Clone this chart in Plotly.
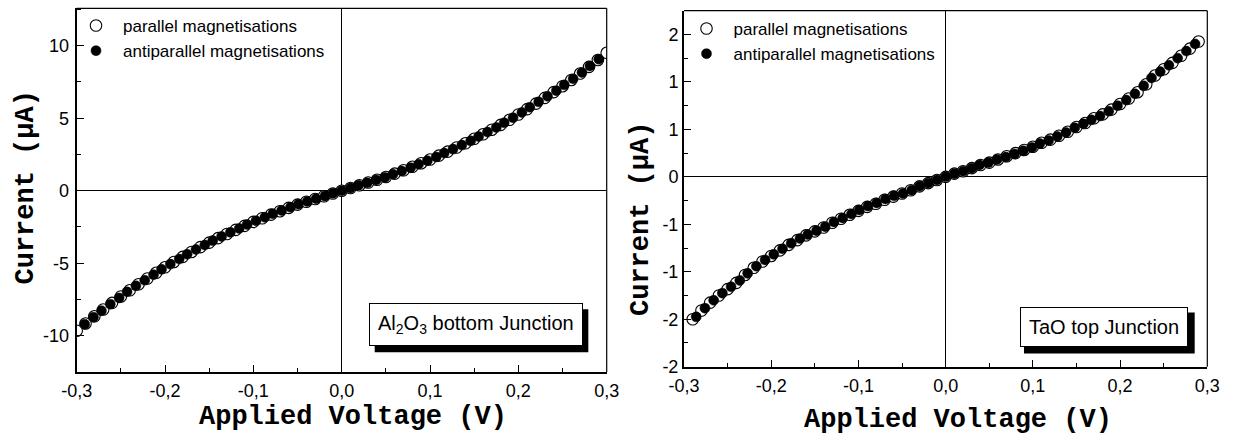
import plotly.graph_objects as go

# ---------------- Al2O3 bottom junction ----------------
al_v_par = [-0.30, -0.29, -0.28, -0.27, -0.26, -0.25, -0.24, -0.23, -0.22, -0.21,
            -0.20, -0.19, -0.18, -0.17, -0.16, -0.15, -0.14, -0.13, -0.12, -0.11,
            -0.10, -0.09, -0.08, -0.07, -0.06, -0.05, -0.04, -0.03, -0.02, -0.01,
            0.00, 0.01, 0.02, 0.03, 0.04, 0.05, 0.06, 0.07, 0.08, 0.09,
            0.10, 0.11, 0.12, 0.13, 0.14, 0.15, 0.16, 0.17, 0.18, 0.19,
            0.20, 0.21, 0.22, 0.23, 0.24, 0.25, 0.26, 0.27, 0.28, 0.29, 0.30]
al_i_par = [-9.65, -9.15, -8.66, -8.19, -7.73, -7.29, -6.86, -6.45, -6.05, -5.66,
            -5.28, -4.91, -4.56, -4.22, -3.89, -3.58, -3.27, -2.98, -2.70, -2.42,
            -2.15, -1.90, -1.65, -1.41, -1.18, -0.96, -0.76, -0.57, -0.38, -0.19,
            0.00, 0.19, 0.38, 0.57, 0.76, 0.95, 1.18, 1.41, 1.65, 1.90,
            2.15, 2.42, 2.70, 2.98, 3.27, 3.58, 3.89, 4.21, 4.54, 4.89,
            5.26, 5.63, 6.01, 6.40, 6.80, 7.21, 7.64, 8.08, 8.54, 9.02, 9.51]
al_v_anti = [-0.291, -0.281, -0.272, -0.262, -0.252, -0.243, -0.233, -0.223, -0.213, -0.204,
             -0.194, -0.184, -0.175, -0.165, -0.155, -0.146, -0.136, -0.126, -0.116, -0.107,
             -0.097, -0.087, -0.078, -0.068, -0.058, -0.049, -0.039, -0.029, -0.019, -0.010,
             0.000, 0.010, 0.019, 0.029, 0.039, 0.049, 0.058, 0.068, 0.078, 0.087,
             0.097, 0.107, 0.116, 0.126, 0.136, 0.146, 0.155, 0.165, 0.175, 0.184,
             0.194, 0.204, 0.213, 0.223, 0.233, 0.243, 0.252, 0.262, 0.272, 0.281, 0.291]
al_i_anti = [-9.20, -8.72, -8.27, -7.82, -7.39, -6.97, -6.56, -6.17, -5.79, -5.42,
             -5.06, -4.71, -4.38, -4.05, -3.74, -3.44, -3.15, -2.87, -2.60, -2.33,
             -2.07, -1.83, -1.59, -1.36, -1.14, -0.93, -0.74, -0.55, -0.37, -0.18,
             0.00, 0.18, 0.37, 0.55, 0.74, 0.92, 1.14, 1.36, 1.59, 1.83,
             2.07, 2.33, 2.60, 2.87, 3.15, 3.44, 3.74, 4.05, 4.36, 4.69,
             5.04, 5.40, 5.76, 6.13, 6.51, 6.90, 7.30, 7.72, 8.15, 8.60, 9.07]

# ---------------- TaO top junction ----------------
ta_v_par = [-0.29, -0.28, -0.27, -0.26, -0.25, -0.24, -0.23, -0.22, -0.21, -0.20,
            -0.19, -0.18, -0.17, -0.16, -0.15, -0.14, -0.13, -0.12, -0.11, -0.10,
            -0.09, -0.08, -0.07, -0.06, -0.05, -0.04, -0.03, -0.02, -0.01, 0.00,
            0.01, 0.02, 0.03, 0.04, 0.05, 0.06, 0.07, 0.08, 0.09, 0.10,
            0.11, 0.12, 0.13, 0.14, 0.15, 0.16, 0.17, 0.18, 0.19, 0.20,
            0.21, 0.22, 0.23, 0.24, 0.25, 0.26, 0.27, 0.28, 0.29]
ta_i_par = [-1.80, -1.69, -1.59, -1.50, -1.42, -1.34, -1.24, -1.15, -1.07, -1.00,
            -0.93, -0.86, -0.80, -0.74, -0.69, -0.64, -0.58, -0.53, -0.48, -0.43,
            -0.38, -0.34, -0.29, -0.25, -0.21, -0.17, -0.12, -0.08, -0.04, 0.00,
            0.04, 0.07, 0.11, 0.15, 0.18, 0.22, 0.26, 0.30, 0.34, 0.38,
            0.43, 0.47, 0.52, 0.57, 0.63, 0.68, 0.74, 0.79, 0.85, 0.92,
            0.99, 1.07, 1.17, 1.28, 1.36, 1.44, 1.53, 1.62, 1.71]
ta_v_anti = [-0.286, -0.276, -0.266, -0.256, -0.246, -0.236, -0.227, -0.217, -0.207, -0.197,
             -0.187, -0.177, -0.167, -0.158, -0.148, -0.138, -0.128, -0.118, -0.108, -0.099,
             -0.089, -0.079, -0.069, -0.059, -0.049, -0.039, -0.030, -0.020, -0.010, 0.000,
             0.010, 0.020, 0.030, 0.039, 0.049, 0.059, 0.069, 0.079, 0.089, 0.099,
             0.108, 0.118, 0.128, 0.138, 0.148, 0.158, 0.167, 0.177, 0.187, 0.197,
             0.207, 0.217, 0.227, 0.236, 0.246, 0.256, 0.266, 0.276, 0.286]
ta_i_anti = [-1.77, -1.66, -1.56, -1.47, -1.39, -1.31, -1.22, -1.13, -1.05, -0.98,
             -0.91, -0.84, -0.78, -0.73, -0.68, -0.63, -0.57, -0.52, -0.47, -0.42,
             -0.37, -0.33, -0.28, -0.24, -0.21, -0.17, -0.12, -0.08, -0.04, 0.00,
             0.04, 0.07, 0.11, 0.15, 0.18, 0.22, 0.25, 0.29, 0.33, 0.37,
             0.42, 0.46, 0.51, 0.56, 0.62, 0.67, 0.72, 0.77, 0.83, 0.90,
             0.97, 1.05, 1.15, 1.25, 1.33, 1.41, 1.50, 1.59, 1.68]

# ---------------- ticks ----------------
x_tickvals = [-0.3, -0.2, -0.1, 0.0, 0.1, 0.2, 0.3]
x_ticktext = ["-0,3", "-0,2", "-0,1", "0,0", "0,1", "0,2", "0,3"]
x_minor = [-0.25, -0.15, -0.05, 0.05, 0.15, 0.25]
al_y_tickvals = [-10, -5, 0, 5, 10]
al_y_ticktext = ["-10", "-5", "0", "5", "10"]
al_y_minor = [-12.5, -7.5, -2.5, 2.5, 7.5, 12.5]
ta_y_tickvals = [-2.4, -1.8, -1.2, -0.6, 0.0, 0.6, 1.2, 1.8]
ta_y_ticktext = ["-2", "-2", "-1", "-1", "0", "1", "1", "2"]
ta_y_minor = [-2.1, -1.5, -0.9, -0.3, 0.3, 0.9, 1.5, 2.1]

series_names = ["parallel magnetisations", "antiparallel magnetisations"]

W, H = 1234, 439
SANS = "Liberation Sans, Arial, sans-serif"
MONO = "Liberation Mono, Courier New, monospace"

fig = go.Figure()

open_marker = dict(symbol="circle", size=11.5, color="white", line=dict(color="black", width=1.1))
full_marker = dict(symbol="circle", size=10, color="black", line=dict(color="black", width=0.5))

fig.add_trace(go.Scatter(x=al_v_par, y=al_i_par, mode="markers", marker=open_marker,
                         name=series_names[0], xaxis="x", yaxis="y", legend="legend"))
fig.add_trace(go.Scatter(x=al_v_anti, y=al_i_anti, mode="markers", marker=full_marker,
                         name=series_names[1], xaxis="x", yaxis="y", legend="legend"))
fig.add_trace(go.Scatter(x=ta_v_par, y=ta_i_par, mode="markers", marker=open_marker,
                         name=series_names[0], xaxis="x2", yaxis="y2", legend="legend2"))
fig.add_trace(go.Scatter(x=ta_v_anti, y=ta_i_anti, mode="markers", marker=full_marker,
                         name=series_names[1], xaxis="x2", yaxis="y2", legend="legend2"))


def px_x(p):
    return p / W


def px_y(p):
    return 1 - p / H


common = dict(showgrid=False, showline=True, linecolor="black", linewidth=2,
              ticks="inside", ticklen=7, tickwidth=1.3, tickcolor="black",
              zeroline=True, zerolinecolor="black", zerolinewidth=1.2,
              tickfont=dict(family=SANS, size=18, color="black"),
              tickmode="array", automargin=False)
minor_style = dict(ticks="inside", ticklen=4, tickcolor="black", tickwidth=1.2)
legend_style = dict(xanchor="left", yanchor="top", bgcolor="rgba(0,0,0,0)",
                    font=dict(family=SANS, size=17, color="black"),
                    tracegroupgap=0, itemsizing="trace", itemwidth=44)

fig.update_layout(
    width=W, height=H, margin=dict(l=0, r=0, t=0, b=0, autoexpand=False),
    paper_bgcolor="white", plot_bgcolor="white",
    xaxis=dict(common, domain=[px_x(76.7), px_x(606.7)], range=[-0.3, 0.3],
               tickvals=x_tickvals, ticktext=x_ticktext, anchor="y",
               minor=dict(minor_style, tickvals=x_minor), ticklabelstandoff=1),
    yaxis=dict(common, domain=[px_y(372.3), px_y(8.3)], range=[-12.52, 12.58],
               tickvals=al_y_tickvals, ticktext=al_y_ticktext, anchor="x",
               minor=dict(minor_style, tickvals=al_y_minor), ticklabelstandoff=2),
    xaxis2=dict(common, domain=[px_x(684), px_x(1207.3)], range=[-0.3, 0.3],
                tickvals=x_tickvals, ticktext=x_ticktext, anchor="y2",
                minor=dict(minor_style, tickvals=x_minor), ticklabelstandoff=2),
    yaxis2=dict(common, domain=[px_y(366.7), px_y(10.7)], range=[-2.4, 2.1],
                tickvals=ta_y_tickvals, ticktext=ta_y_ticktext, anchor="x2",
                minor=dict(minor_style, tickvals=ta_y_minor), ticklabelstandoff=0),
    legend=dict(legend_style, x=px_x(69), y=px_y(8)),
    legend2=dict(legend_style, x=px_x(679.5), y=px_y(11)),
    showlegend=True,
)

# thin top and right frame edges
for xa, ya in (("x", "y"), ("x2", "y2")):
    fig.add_shape(type="line", xref=f"{xa} domain", yref=f"{ya} domain",
                  x0=0, x1=1, y0=1, y1=1, line=dict(color="black", width=1.2))
    fig.add_shape(type="line", xref=f"{xa} domain", yref=f"{ya} domain",
                  x0=1, x1=1, y0=0, y1=1, line=dict(color="black", width=1.2))

# axis titles
title_font = dict(family=MONO, size=27, color="black")
title_kw = dict(xref="paper", yref="paper", showarrow=False, font=title_font,
                xanchor="center", yanchor="middle")
fig.add_annotation(text="<b>Applied Voltage (V)</b>", x=px_x(352.5), y=px_y(417), **title_kw)
fig.add_annotation(text="<b>Applied Voltage (V)</b>", x=px_x(957.5), y=px_y(420), **title_kw)
fig.add_annotation(text="<b>Current (µA)</b>", x=px_x(25), y=px_y(187.5), textangle=-90, **title_kw)
fig.add_annotation(text="<b>Current (µA)</b>", x=px_x(641), y=px_y(219), textangle=-90, **title_kw)

# junction labels: white framed box with a solid drop shadow behind it
label_font = dict(family=SANS, size=20, color="black")
labels = [
    ("x", "y", 0.1515, -9.24, "Al<sub>2</sub>O<sub>3</sub> bottom Junction",
     (0.5623, 0.9653, 0.0552, 0.1734)),
    ("x2", "y2", 0.181, -1.90, "TaO top Junction",
     (0.6497, 0.9759, 0.0368, 0.1520)),
]
for xa, ya, lx, ly, txt, (sx0, sx1, sy0, sy1) in labels:
    fig.add_shape(type="rect", xref=f"{xa} domain", yref=f"{ya} domain",
                  x0=sx0, x1=sx1, y0=sy0, y1=sy1, layer="above",
                  fillcolor="black", line=dict(width=0))
    fig.add_annotation(text=txt, xref=xa, yref=ya, x=lx, y=ly, showarrow=False,
                       xanchor="center", yanchor="middle",
                       bgcolor="white", bordercolor="black", borderwidth=1,
                       borderpad=8, font=label_font)

fig.write_html("out.html")
